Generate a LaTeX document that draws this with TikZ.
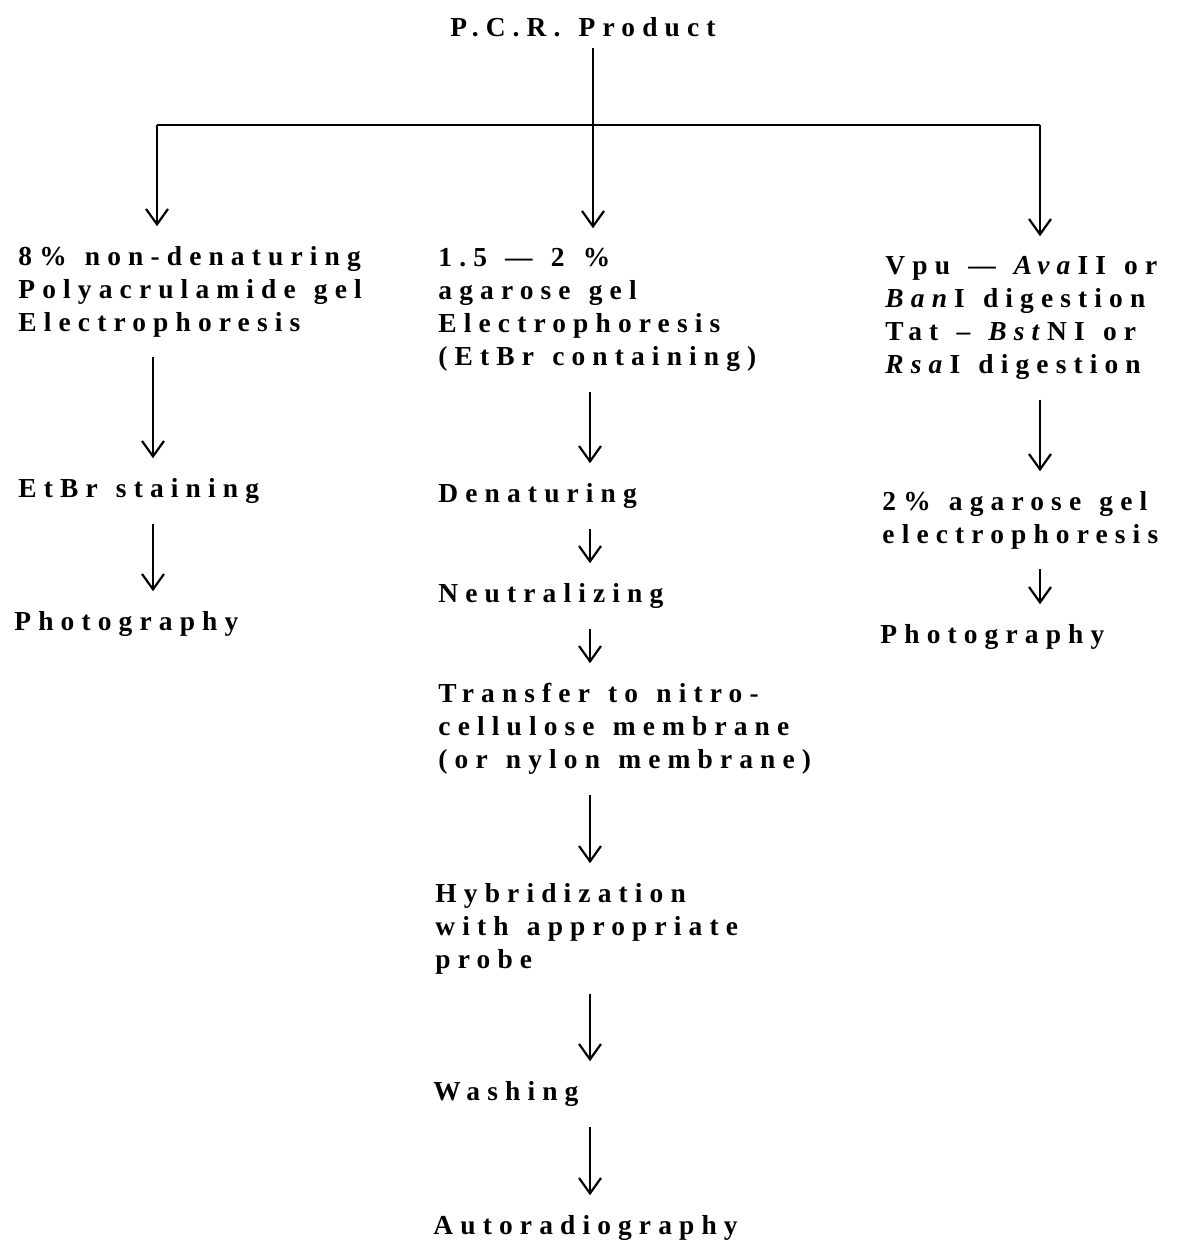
\documentclass[tikz,border=0pt]{standalone}
\usepackage{fontspec}
\setmainfont{Liberation Serif}[LetterSpace=26,WordSpace=1.3]
\usetikzlibrary{arrows.meta}

\tikzset{
  stage/.style={anchor=north west, align=left, inner sep=0pt,
    font=\fontsize{12.5}{15}\selectfont\bfseries},
  link/.style={line width=1pt},
  arr/.style={line width=1pt, -{Straight Barb[length=7pt,width=10pt]},
    shorten <=9pt, shorten >=9pt}
}

\begin{document}
\begin{tikzpicture}[x=0.016cm, y=-0.016cm]
  \useasboundingbox (0,0) rectangle (1178,1244);

  \node[stage, anchor=north] (pcr) at (583,17) {P.C.R. Product};

  % split into the three columns
  \coordinate (split) at (593,125);
  \coordinate (splitL) at (157,125);
  \coordinate (splitR) at (1040,125);
  \coordinate (colL) at (153,0);
  \coordinate (colM) at (590,0);
  \coordinate (colR) at (1040,0);

  % left column
  \node[stage] (l1) at (18,246) {8\% non-denaturing\\Polyacrulamide gel\\Electrophoresis};
  \node[stage] (l2) at (18,478) {EtBr staining};
  \node[stage] (l3) at (14,611) {Photography};

  % middle column
  \node[stage] (m1) at (438,248) {1.5 — 2 \%\\agarose gel\\Electrophoresis\\(EtBr containing)};
  \node[stage] (m2) at (438,483) {Denaturing};
  \node[stage] (m3) at (438,583) {Neutralizing};
  \node[stage] (m4) at (438,683) {Transfer to nitro-\\cellulose membrane\\(or nylon membrane)};
  \node[stage] (m5) at (435,883) {Hybridization\\with appropriate\\probe};
  \node[stage] (m6) at (433,1081) {Washing};
  \node[stage] (m7) at (433,1215) {Autoradiography};

  % right column
  \node[stage] (r1) at (885,256) {Vpu — \textit{Ava}II or\\\textit{Ban}I digestion\\Tat – \textit{Bst}NI or\\\textit{Rsa}I digestion};
  \node[stage] (r2) at (882,491) {2\% agarose gel\\electrophoresis};
  \node[stage] (r3) at (880,624) {Photography};

  \draw[link, shorten <=5pt] (pcr.south -| split) -- (split);
  \draw[link] (splitL) -- (splitR);
  \draw[arr, shorten <=0pt] (splitL) -- (l1.north -| splitL);
  \draw[arr, shorten <=0pt] (split) -- (m1.north -| split);
  \draw[arr, shorten <=0pt] (splitR) -- (r1.north -| splitR);

  \foreach \a/\b in {l1/l2, l2/l3}
    \draw[arr] (\a.south -| colL) -- (\b.north -| colL);
  \foreach \a/\b in {m1/m2, m2/m3, m3/m4, m4/m5, m5/m6, m6/m7}
    \draw[arr] (\a.south -| colM) -- (\b.north -| colM);
  \foreach \a/\b in {r1/r2, r2/r3}
    \draw[arr] (\a.south -| colR) -- (\b.north -| colR);
\end{tikzpicture}
\end{document}
